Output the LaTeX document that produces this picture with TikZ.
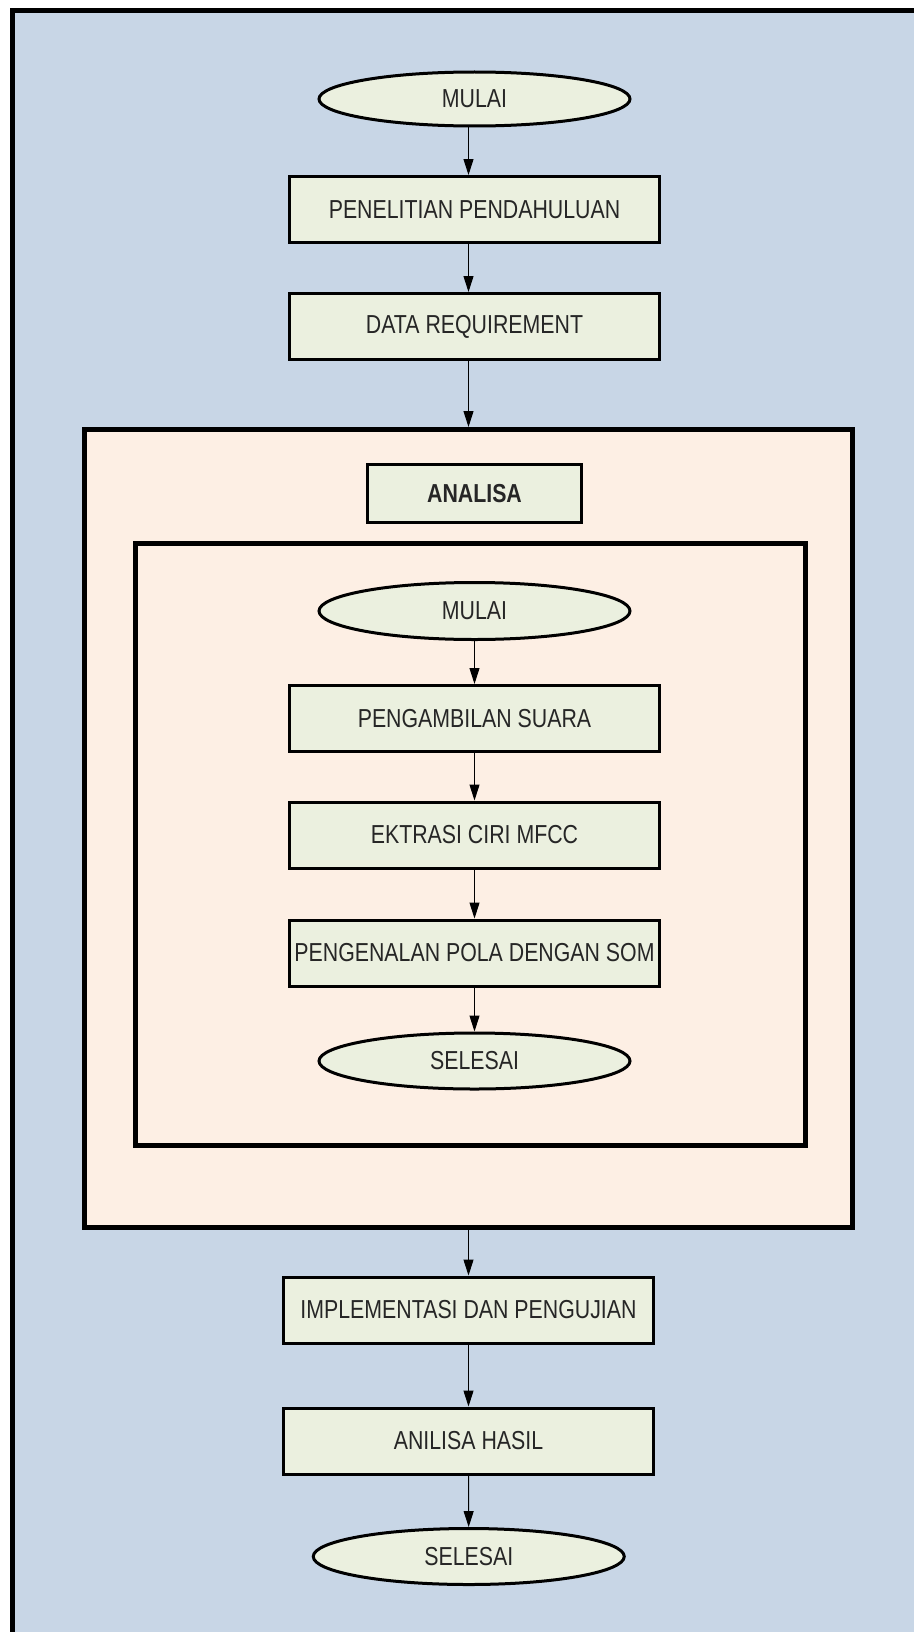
\documentclass[tikz,border=0pt]{standalone}
\usepackage{fontspec}
\setmainfont{Liberation Sans}[FakeStretch=0.82]
\usetikzlibrary{shapes.geometric,arrows.meta}

\definecolor{sheetblue}{RGB}{200,214,230}
\definecolor{groupbg}{RGB}{253,239,228}
\definecolor{stepfill}{RGB}{235,240,223}

\tikzset{
  lbl/.style={font=\fontsize{13pt}{15.5pt}\selectfont, text=black!85},
  stepbox/.style={lbl, draw=black, line width=1.5pt, fill=stepfill,
    rectangle, inner sep=0pt, minimum width=185pt, minimum height=33pt},
  terminal/.style={lbl, draw=black, line width=1.5pt, fill=stepfill,
    ellipse, inner sep=0pt, minimum width=155.5pt, minimum height=27pt},
  groupframe/.style={draw=black, line width=2.5pt, fill=groupbg,
    rectangle, inner sep=0pt},
  flow/.style={draw=black, line width=0.5pt,
    -{Triangle[length=8pt,width=5pt]}},
}

\begin{document}
\begin{tikzpicture}[x=0.5pt, y=-0.5pt]
  \useasboundingbox (0,0) rectangle (914,1632);

  % sheet background with its left and top border
  \fill[sheetblue] (12.5,10.5) rectangle (914,1632);
  \draw[line width=2.75pt] (12.5,1632) -- (12.5,10.5) -- (914,10.5);

  % main flow, upper part
  \node[terminal] (start) at (474.5,99) {MULAI};
  \node[stepbox] (prelim) at (474.5,209.5) {PENELITIAN PENDAHULUAN};
  \node[stepbox] (datareq) at (474.5,326.5) {DATA REQUIREMENT};

  % analysis group
  \node[groupframe, minimum width=384pt, minimum height=399pt] (ana) at (468.5,828.5) {};
  \node[stepbox, minimum width=107pt, minimum height=29pt, font=\fontsize{13pt}{15.5pt}\selectfont\bfseries]
    (anatitle) at (474.5,493.5) {ANALISA};
  \node[groupframe, minimum width=335pt, minimum height=300.75pt] (inner) at (470,844.25) {};

  \node[terminal, minimum height=28.5pt] (istart) at (474.5,611) {MULAI};
  \node[stepbox] (voice) at (474.5,718.5) {PENGAMBILAN SUARA};
  \node[stepbox] (mfcc) at (474.5,835) {EKTRASI CIRI MFCC};
  \node[stepbox] (som) at (474.5,953) {PENGENALAN POLA DENGAN SOM};
  \node[terminal, minimum height=28pt] (iend) at (474.5,1061) {SELESAI};

  % main flow, lower part
  \node[stepbox] (impl) at (468.5,1310) {IMPLEMENTASI DAN PENGUJIAN};
  \node[stepbox] (result) at (468.5,1441) {ANILISA HASIL};
  \node[terminal, minimum height=28pt] (finish) at (468.75,1556.5) {SELESAI};

  % connectors
  \draw[flow] (start.south -| ana.north) -- (prelim.north -| ana.north);
  \draw[flow] (prelim.south -| ana.north) -- (datareq.north -| ana.north);
  \draw[flow] (datareq.south -| ana.north) -- (ana.north);

  \draw[flow] (istart) -- (voice);
  \draw[flow] (voice) -- (mfcc);
  \draw[flow] (mfcc) -- (som);
  \draw[flow] (som) -- (iend);

  \draw[flow] (ana.south) -- (impl.north);
  \draw[flow] (impl) -- (result);
  \draw[flow] (result) -- (finish);
\end{tikzpicture}
\end{document}
